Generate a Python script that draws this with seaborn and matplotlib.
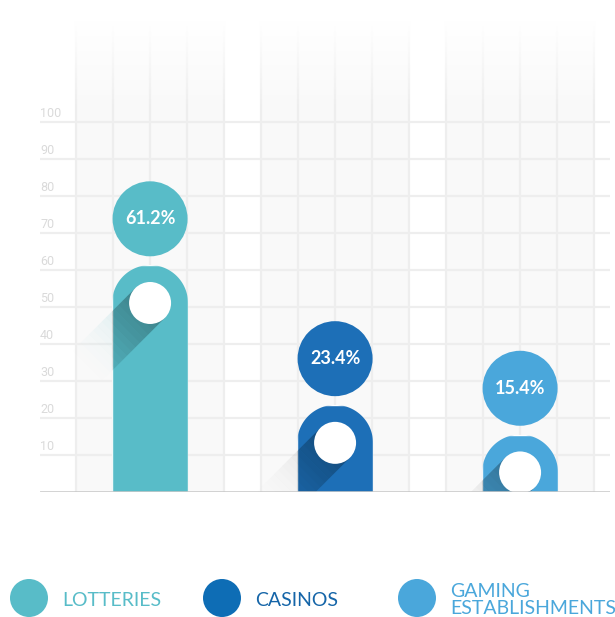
import numpy as np
import pandas as pd
import matplotlib.pyplot as plt
import seaborn as sns
from matplotlib.patches import Polygon, Ellipse, Circle

categories = ["Lotteries", "Casinos", "Gaming establishments"]
shares = [61.2, 23.4, 15.4]
share_labels = ["61.2%", "23.4%", "15.4%"]
legend_labels = ["LOTTERIES", "CASINOS", "GAMING\nESTABLISHMENTS"]
y_ticks = [10, 20, 30, 40, 50, 60, 70, 80, 90, 100]

bar_colors = ["#58bcc8", "#1d6fb7", "#4aa7db"]
shadow_colors = ["#58bcc8", "#8a8a8a", "#8a8a8a"]
legend_colors = ["#58bcc8", "#0e6db5", "#4aa7db"]
legend_text_colors = ["#58bcc8", "#1565a8", "#4aa7db"]

W, H = 615, 617
XMIN, XMAX = -0.595, 2.486
YMAX = 130
AX_W, AX_H = 570, 481
sx = AX_W / (XMAX - XMIN)   # px per x unit
sy = AX_H / YMAX            # px per y unit

sns.set_style("white")
plt.rcParams["font.family"] = ["Lato", "DejaVu Sans"]

fig = plt.figure(figsize=(W / 100, H / 100), dpi=100)
ax = fig.add_axes([40 / W, (H - 491.5) / H, AX_W / W, AX_H / H])

df = pd.DataFrame({"category": categories, "share": shares})
sns.barplot(data=df, x="category", y="share", hue="category",
            palette=bar_colors, width=0.41, saturation=1, legend=False,
            ax=ax, zorder=3)

# background panels and grid
for c in range(len(categories)):
    ax.axvspan(c - 0.4, c + 0.4, color="#f9f9f9", zorder=0, lw=0)
    ax.vlines([c + k * 0.2 for k in range(-2, 3)], 0, YMAX,
              color="#eeeeee", lw=1.6, zorder=1)
ax.hlines(y_ticks, XMIN, XMAX, color="#eeeeee", lw=1.6, zorder=1)

# fade to white at the top
yy = np.linspace(100, YMAX, 120)
grad = np.ones((len(yy), 1, 4))
grad[:, 0, 3] = np.clip((yy - 103) / (127 - 103), 0, 1)
ax.imshow(grad, extent=(XMIN, XMAX, 100, YMAX), origin="lower",
          aspect="auto", zorder=1.5)

for t in y_ticks:
    ax.text(XMIN, t + 1.3, str(t), ha="left", va="baseline", fontsize=9,
            color="#dadada", family="Roboto", zorder=2)

ax.axhline(0, color="#c6c6c6", lw=1.8, zorder=8)

# rounded bars, holes, shadows, value badges
d = np.array([-1, -1]) / np.sqrt(2)
n = np.array([1, -1]) / np.sqrt(2)
hole_r = 21
for patch, v, col, scol, lab in zip(ax.patches, shares, bar_colors,
                                    shadow_colors, share_labels):
    x0, w = patch.get_x(), patch.get_width()
    cx = x0 + w / 2
    rx = w / 2
    ry = rx * sx / sy
    cy = v - ry
    t = np.linspace(0, np.pi, 80)
    pts = [(x0, -5), (x0 + w, -5)] + \
        [(cx + rx * np.cos(a), cy + ry * np.sin(a)) for a in t] + [(x0, cy)]
    shape = Polygon(pts, closed=True, transform=ax.transData)
    patch.set_clip_path(shape)

    # long shadow
    L, N = 95, 16
    for k in range(N):
        s0, s1 = L * k / N, L * (k + 1) / N
        quad_px = [hole_r * n + s0 * d, hole_r * n + s1 * d,
                   -hole_r * n + s1 * d, -hole_r * n + s0 * d]
        quad = [(cx + p[0] / sx, cy + p[1] / sy) for p in quad_px]
        frac = 1 - k / N
        inner = Polygon(quad, closed=True, color="black", lw=0,
                        alpha=0.3 * frac, zorder=4)
        ax.add_patch(inner)
        inner.set_clip_path(shape)
        outer = Polygon(quad, closed=True, color=scol, lw=0,
                        alpha=0.3 * frac ** 2, zorder=2.5)
        ax.add_patch(outer)

    ax.add_patch(Ellipse((cx, cy), 2 * hole_r / sx, 2 * hole_r / sy,
                         color="white", lw=0, zorder=6))

    by = v + 12.5
    ax.add_patch(Ellipse((cx, by), 2 * 37.5 / sx, 2 * 37.5 / sy,
                         color=col, lw=0, zorder=6))
    ax.text(cx, by, lab, ha="center", va="center", color="white",
            fontsize=13, fontweight="bold", zorder=7)

ax.set_xlim(XMIN, XMAX)
ax.set_ylim(0, YMAX)
ax.set_xlabel("")
ax.set_ylabel("")
ax.axis("off")

# legend in pixel space
lax = fig.add_axes([0, 0, 1, 1])
lax.set_xlim(0, W)
lax.set_ylim(H, 0)
lax.axis("off")
leg_x = [29, 222, 417]
for x, lab, col, tcol in zip(leg_x, legend_labels, legend_colors, legend_text_colors):
    lax.add_patch(Circle((x, 598), 19, color=col, lw=0))
    lax.text(x + 33, 600, lab, ha="left", va="center", fontsize=14,
             color=tcol, linespacing=0.95)

fig.savefig("out.png", dpi=100)
